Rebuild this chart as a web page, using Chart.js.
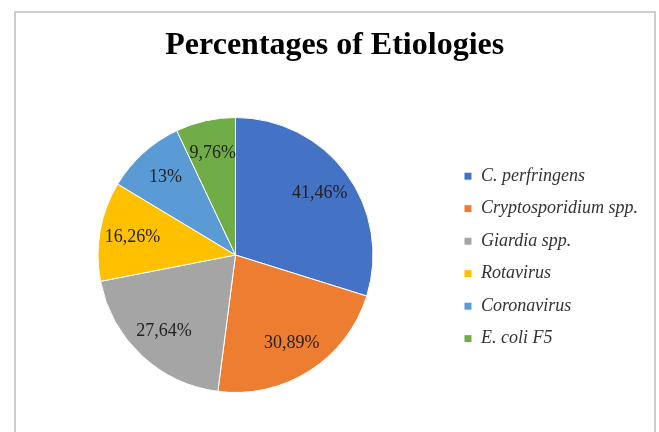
<!DOCTYPE html>
<html>
<head>
<meta charset="utf-8">
<script src="https://cdn.jsdelivr.net/npm/chart.js@4.4.1/dist/chart.umd.min.js"></script>
<style>
    html, body { margin: 0; padding: 0; background: #ffffff; }
    body { width: 659px; height: 432px; position: relative; overflow: hidden; }
    #frame {
        position: absolute; left: 14px; top: 11px; width: 638px; height: 440px;
        border: 2px solid #cdcdcd; border-bottom: none;
    }
    #chart { position: absolute; left: 0; top: 0; }
</style>
</head>
<body>
<div id="frame"></div>
<canvas id="chart" width="659" height="432"></canvas>
<script>
//datos del grafico
const etiologies = [
    'C. perfringens',
    'Cryptosporidium spp.',
    'Giardia spp.',
    'Rotavirus',
    'Coronavirus',
    'E. coli F5'
];

const percentages = [41.46, 30.89, 27.64, 16.26, 13, 9.76];

const sliceColors = ['#4472C4', '#ED7D31', '#A5A5A5', '#FFC000', '#5B9BD5', '#70AD47'];

//etiquetas dentro de cada porcion
const sliceLabels = {
    id: 'sliceLabels',
    afterDatasetsDraw(chart) {
        const ctx = chart.ctx;
        const meta = chart.getDatasetMeta(0);
        ctx.save();
        ctx.font = '18px "Liberation Serif", "Times New Roman", serif';
        ctx.fillStyle = '#222222';
        ctx.textAlign = 'center';
        ctx.textBaseline = 'middle';
        meta.data.forEach(function (arc, i) {
            const p = arc.getProps(['x', 'y', 'startAngle', 'endAngle', 'outerRadius'], true);
            const mid = (p.startAngle + p.endAngle) / 2;
            const r = p.outerRadius * 0.76;
            const text = String(percentages[i]).replace('.', ',') + '%';
            ctx.fillText(text, p.x + Math.cos(mid) * r, p.y + Math.sin(mid) * r);
        });
        ctx.restore();
    }
};

const ctx = document.getElementById('chart');

new Chart(ctx, {
    type: 'pie',

    data: {
        labels: etiologies,
        datasets: [{
            data: percentages,
            backgroundColor: sliceColors,
            borderColor: '#ffffff',
            borderWidth: 1
        }]
    },

    options: {
        responsive: false,
        animation: false,

        layout: {
            padding: { left: 21.5, right: 11, top: 0, bottom: 39 }
        },

        plugins: {
            title: {
                display: true,
                text: 'Percentages of Etiologies',
                color: '#000000',
                font: { family: '"Liberation Serif", "Times New Roman", serif', size: 32, weight: 'bold' },
                padding: { top: 27, bottom: 51.6 }
            },
            legend: {
                position: 'right',
                fullSize: false,
                // titulo vacio: solo baja un poco las etiquetas
                title: {
                    display: true,
                    text: '',
                    font: { size: 4 },
                    padding: 0
                },
                labels: {
                    boxWidth: 8,
                    boxHeight: 8,
                    padding: 14.5,
                    color: '#333333',
                    font: { family: '"Liberation Serif", "Times New Roman", serif', size: 18, style: 'italic' }
                }
            },
            tooltip: { enabled: false }
        }
    },

    plugins: [sliceLabels]
});
</script>
</body>
</html>
